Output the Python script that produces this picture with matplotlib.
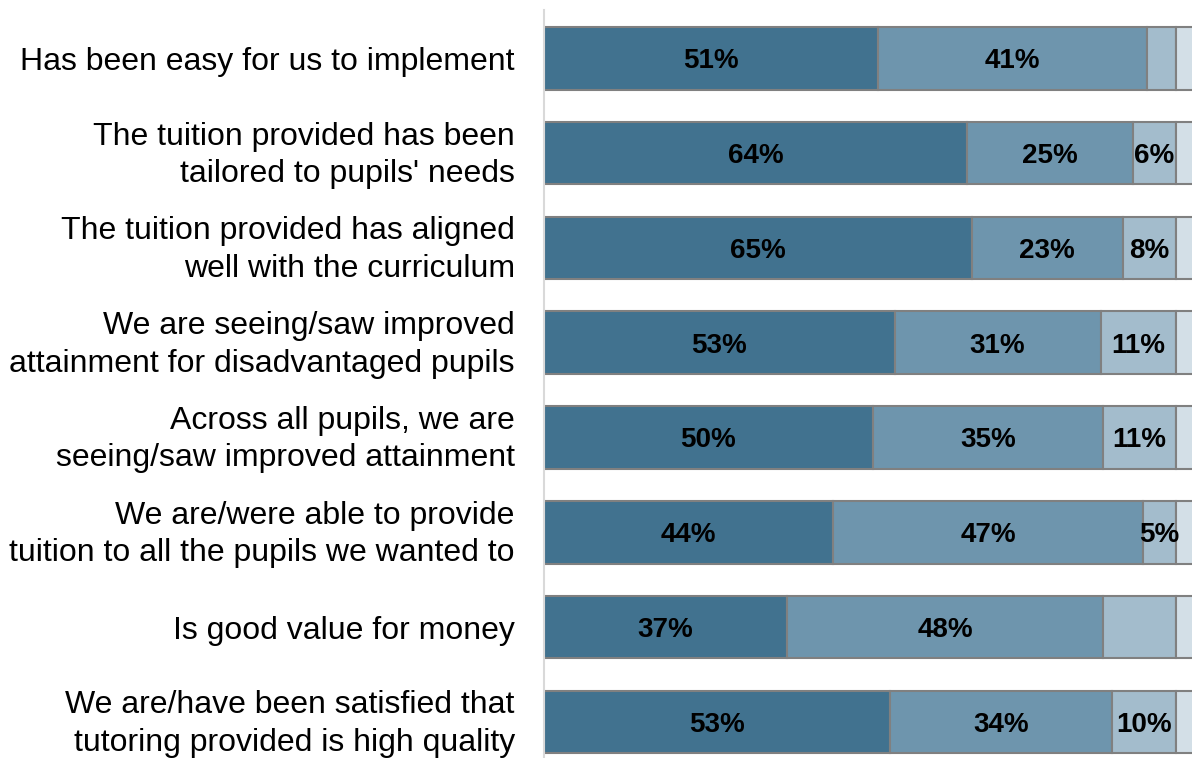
import matplotlib.pyplot as plt
import matplotlib.transforms as mtransforms
import numpy as np

plt.rcParams['font.family'] = ['Liberation Sans', 'DejaVu Sans']

statements = [
    "Has been easy for us to implement",
    "The tuition provided has been\ntailored to pupils' needs",
    "The tuition provided has aligned\nwell with the curriculum",
    "We are seeing/saw improved\nattainment for disadvantaged pupils",
    "Across all pupils, we are\nseeing/saw improved attainment",
    "We are/were able to provide\ntuition to all the pupils we wanted to",
    "Is good value for money",
    "We are/have been satisfied that\ntutoring provided is high quality",
]

# response shares (%) per statement, most positive first (unrounded)
strongly_agree = [50.8, 64.3, 65.0, 53.3, 50.0, 44.0, 37.0, 52.6]
agree = [40.8, 25.3, 23.0, 31.3, 35.0, 47.0, 48.0, 33.8]
disagree = [4.4, 6.4, 8.0, 11.4, 11.0, 5.0, 11.0, 9.6]
other = [4.0, 4.0, 4.0, 4.0, 4.0, 4.0, 4.0, 4.0]

# which segments carry a printed value
show_sa = [True] * 8
show_a = [True] * 8
show_d = [False, True, True, True, True, True, False, True]

colors = ["#41728f", "#6e95ad", "#a3bccc", "#d3dfe7"]

fig = plt.figure(figsize=(11.92, 7.58), dpi=100)
ax = fig.add_axes([544 / 1192, 0, 1 - 544 / 1192, 1 - 10 / 758])

y = np.arange(len(statements))
series = [strongly_agree, agree, disagree, other]
flags = [show_sa, show_a, show_d, [False] * 8]
left = np.zeros(len(statements))
for vals, col, flag in zip(series, colors, flags):
    vals = np.asarray(vals, dtype=float)
    ax.barh(y, vals, left=left, height=0.66, color=col,
            edgecolor="#808080", linewidth=1.5)
    for yi, l, v, f in zip(y, left, vals, flag):
        if f:
            ax.annotate("{:.0f}%".format(v), (l + v / 2, yi), xytext=(0, -2),
                        textcoords="offset points", ha="center", va="center",
                        fontsize=20, fontweight="bold", color="black")
    left += vals

ax.set_xlim(0, 98.5)
ax.set_ylim(7.38, -0.51)
ax.set_xticks([])
ax.set_yticks(y)
ax.set_yticklabels(statements, fontsize=23, linespacing=1.32)
ax.tick_params(axis="y", length=0, pad=21)

# two-line labels sit a little high in the row
nudge = mtransforms.ScaledTranslation(0, 5 / 100, fig.dpi_scale_trans)
for lbl in ax.get_yticklabels():
    if "\n" in lbl.get_text():
        lbl.set_transform(lbl.get_transform() + nudge)

for s in ["top", "right", "bottom"]:
    ax.spines[s].set_visible(False)
ax.spines["left"].set_color("#d9d9d9")
ax.spines["left"].set_linewidth(1.5)

fig.savefig("out.png", dpi=100)
